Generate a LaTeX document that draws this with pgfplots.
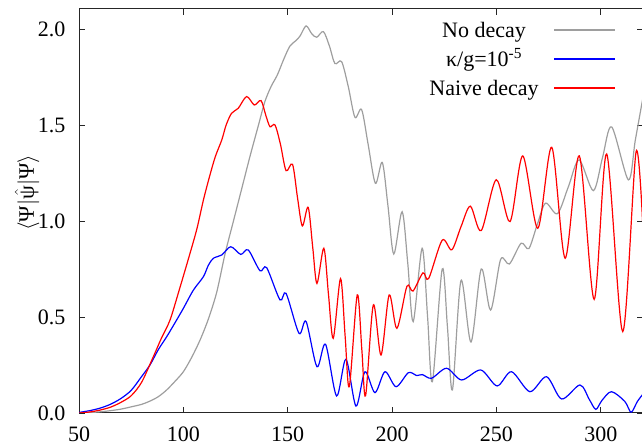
\documentclass[border=0pt]{standalone}
\usepackage{fix-cm}
\usepackage{pgfplots}
\pgfplotsset{compat=1.18}
\usepackage{fontspec}
\setmainfont{Liberation Serif}
\definecolor{ngray}{RGB}{158,158,158}
\definecolor{nblue}{RGB}{0,0,255}
\definecolor{nred}{RGB}{255,0,0}
\begin{document}
\fontsize{22}{26}\selectfont
\begin{tikzpicture}
\useasboundingbox (0,0) rectangle (642pt,446pt);
\begin{axis}[
  at={(79pt,33pt)}, anchor=south west,
  scale only axis, width=564pt, height=404pt,
  xmin=50, xmax=320.2, ymin=0, ymax=2.104,
  xtick={50,100,...,300}, ytick={0,0.5,1.0,1.5,2.0},
  tick align=inside, major tick length=6pt,
  axis line style={line width=1pt, black!85},
  tick style={black!85, line width=0.8pt},
  tick label style={font=\fontsize{22}{26}\selectfont},
  yticklabel style={/pgf/number format/fixed, /pgf/number format/fixed zerofill, /pgf/number format/precision=1, /pgf/number format/assume math mode=true, xshift=-6pt},
  xticklabel style={/pgf/number format/assume math mode=true, yshift=-6pt},
  ylabel={$\langle$Ψ$|\hat{\mbox{ψ}}|$Ψ$\rangle$},
  ylabel style={at={(axis description cs:-0.092,0.545)}, anchor=center, font=\fontsize{22}{26}\selectfont},
  no markers,
  legend style={at={(axis description cs:0.952,0.980)}, anchor=north east, draw=none, fill=none,
    inner sep=0pt, outer sep=0pt, row sep=4pt, column sep=15pt,
    font=\fontsize{22}{26}\selectfont,
    nodes={inner sep=0pt, text height=20pt, text depth=5pt, anchor=base}},
  legend cell align=right,
  legend plot pos=right,
  legend image code/.code={\draw[#1] (0pt,0.32em) -- (61pt,0.32em);},
]
\addplot[ngray, line width=1.2pt, smooth] coordinates {
(50,0.0)(55,0.002)(60,0.006)(65,0.012)(70,0.02)(75,0.032)(80,0.045)(84,0.062)
(88,0.085)(92,0.12)(96,0.165)(100,0.215)(104,0.29)(108,0.38)(112,0.49)(116,0.63)
(120,0.83)(124,1.0)(128,1.17)(132,1.34)(136,1.50)(139,1.62)(142,1.70)(145,1.76)
(148,1.84)(151,1.91)(154,1.94)(156,1.965)(158.8,2.016)(161.5,1.975)(163.9,1.957)
(167.1,1.986)(170,1.91)(172.6,1.82)(175.8,1.83)(179,1.70)(182.2,1.54)(185.4,1.58)
(188.5,1.40)(192.0,1.196)(195.3,1.305)(198,1.08)(200.8,0.828)(204.8,1.048)
(207.5,0.78)(210.1,0.476)(214.4,0.858)(217,0.50)(219.3,0.163)(224.0,0.75)
(226.5,0.45)(228.9,0.12)(233.0,0.69)(237.8,0.37)(242.7,0.75)(247.2,0.536)
(252.0,0.80)(256.2,0.776)(261.8,0.884)(265.5,0.856)(269.5,0.98)(273.5,1.093)
(279.2,1.038)(284.5,1.18)(289.6,1.318)(296.4,1.158)(300.8,1.33)(305.2,1.49)
(313.2,1.214)(316.5,1.42)(320.3,1.65)
};
\addlegendentry{No decay}
\addplot[nblue, line width=1.2pt, smooth] coordinates {
(50,0.003)(55,0.012)(60,0.025)(65,0.045)(70,0.075)(75,0.118)(80,0.19)(84,0.25)
(88,0.33)(92,0.397)(96,0.47)(100,0.545)(104.8,0.64)(109.6,0.71)(112,0.77)
(114.4,0.806)(118.4,0.823)(122.7,0.866)(127.5,0.826)(131.1,0.849)(136.7,0.741)
(139.9,0.757)(146.3,0.589)(149.2,0.623)(155.4,0.415)(158.8,0.476)(164.0,0.241)
(168.1,0.358)(173.4,0.089)(177.9,0.28)(182.7,0.036)(187.0,0.215)(191.8,0.106)
(196.6,0.215)(201.9,0.137)(207.8,0.21)(211.8,0.195)(214.5,0.20)(218.9,0.181)
(226.1,0.233)(233.3,0.172)(242.5,0.224)(250.3,0.141)(257.2,0.215)(266.0,0.111)
(274.0,0.189)(281.2,0.073)(290,0.146)(294.5,0.07)(297.6,0.019)(300.5,0.065)
(305.1,0.111)(311.5,0.06)(314.5,0.004)(317.5,0.06)(320.3,0.10)
};
\addlegendentry{κ/g=10\textsuperscript{-5}}
\addplot[nred, line width=1.2pt, smooth] coordinates {
(50,0.0)(55,0.005)(60,0.015)(65,0.03)(70,0.055)(75,0.09)(80,0.16)(85.6,0.293)
(89.5,0.39)(93.6,0.484)(98,0.64)(103.2,0.832)(106.5,0.96)(109.6,1.109)(112.5,1.23)
(115.3,1.335)(118.4,1.422)(120.5,1.50)(123.1,1.561)(126.3,1.587)(130.3,1.648)
(134.0,1.604)(137.2,1.627)(139.5,1.55)(141.5,1.491)(143.9,1.50)(146.5,1.40)
(149.2,1.262)(152.3,1.295)(154.7,1.12)(157.0,0.974)(159.8,1.071)(162,0.86)
(164.0,0.675)(167.3,0.858)(169.5,0.62)(171.8,0.389)(175.3,0.70)(177.5,0.40)
(179.5,0.137)(183.3,0.615)(185.5,0.33)(187.3,0.09)(191.0,0.5625)(194.7,0.302)
(198.6,0.615)(202.3,0.441)(207.1,0.66)(210.0,0.635)(214.8,0.73)(217.5,0.70)
(224.0,0.90)(228.6,0.85)(233,0.97)(237.5,1.077)(242.7,0.95)(249.9,1.215)
(256.5,0.997)(262.6,1.339)(269.8,0.962)(276.5,1.384)(282.9,0.806)(289.7,1.339)
(296.8,0.592)(302.8,1.349)(310.5,0.424)(316.9,1.361)(320.3,0.93)
};
\addlegendentry{Naive decay}
\end{axis}
\end{tikzpicture}
\end{document}
